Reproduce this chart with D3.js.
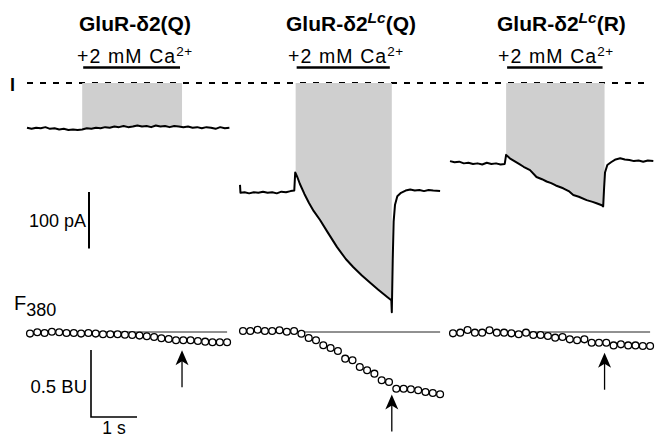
<!DOCTYPE html>
<html>
<head>
<meta charset="utf-8">
<script src="https://cdn.jsdelivr.net/npm/d3@7"></script>
<style>
  html, body { margin: 0; padding: 0; background: #fff; }
  svg { display: block; }
  text { font-family: "Liberation Sans", Arial, Helvetica, sans-serif; fill: #000; }
</style>
</head>
<body>
<svg id="chart" width="660" height="439"></svg>
<script>
// ---------------- DATA ----------------
const titleBase   = ["GluR-δ2", "GluR-δ2", "GluR-δ2"];
const titleSup    = ["", "Lc", "Lc"];
const titleSuffix = ["(Q)", "(Q)", "(R)"];
const caLabel = "+2 mM Ca";
const caSup = "2+";

// Ca2+ application window (s, from start of each trace)
const caOn  = [1.20, 1.21, 1.22];
const caOff = [3.37, 3.30, 3.36];

// whole-cell current traces [time (s), current (pA)]
const current1 = [[0,-79],[0.1,-81],[0.2,-79],[0.3,-80],[0.4,-78],[0.5,-81],[0.6,-80],[0.7,-82],[0.8,-81],[0.9,-83],
  [1.0,-82],[1.1,-83],[1.2,-82],[1.3,-80],[1.4,-81],[1.5,-79],[1.6,-80],[1.7,-78],[1.8,-79],[1.9,-77],
  [2.0,-78],[2.1,-76],[2.2,-78],[2.3,-77],[2.4,-75],[2.5,-77],[2.6,-76],[2.7,-78],[2.8,-75],[2.9,-77],
  [3.0,-76],[3.1,-78],[3.2,-76],[3.3,-77],[3.4,-78],[3.5,-77],[3.6,-79],[3.7,-78],[3.8,-80],[3.9,-78],
  [4.0,-79],[4.1,-81],[4.2,-78],[4.3,-80],[4.4,-79]];
const current2 = [[0,-180],[0.01,-194],[0.1,-193],[0.2,-195],[0.3,-193],[0.4,-194],[0.5,-192],[0.6,-194],[0.7,-193],
  [0.8,-195],[0.9,-192],[1.0,-193],[1.1,-191],[1.18,-190],[1.2,-158],[1.25,-167],[1.3,-178],[1.4,-196],[1.5,-212],
  [1.6,-226],[1.74,-242],[1.9,-263],[2.11,-290],[2.3,-311],[2.46,-325],[2.65,-340],[2.83,-353],[3.0,-365],
  [3.2,-378],[3.29,-384],[3.30,-405],[3.32,-313],[3.34,-245],[3.37,-215],[3.42,-200],[3.5,-194],[3.6,-190],
  [3.7,-188],[3.8,-190],[3.9,-189],[4.0,-191],[4.1,-189],[4.2,-190],[4.35,-191]];
const current3 = [[0,-138],[0.1,-140],[0.2,-139],[0.3,-142],[0.4,-141],[0.5,-143],[0.6,-142],[0.7,-144],[0.8,-141],
  [0.9,-143],[1.0,-142],[1.1,-144],[1.19,-143],[1.22,-127],[1.3,-133],[1.4,-138],[1.5,-143],[1.6,-148],[1.74,-154],
  [1.88,-166],[2.0,-170],[2.1,-174],[2.2,-177],[2.3,-181],[2.46,-186],[2.58,-191],[2.68,-198],[2.8,-201],[2.97,-207],
  [3.1,-210],[3.2,-213],[3.3,-216],[3.33,-218],[3.35,-185],[3.37,-158],[3.42,-145],[3.5,-140],[3.6,-135],[3.7,-133],
  [3.8,-135],[3.9,-136],[4.0,-138],[4.1,-137],[4.2,-139],[4.3,-137],[4.42,-138]];

// F380 fluorescence change (BU), sampled every fluoInterval s starting at fluoStart
const fluoStart = 0.065;
const fluoInterval = 0.1587;
const fluo1 = [-0.012,-0.002,-0.007,0.002,-0.002,-0.007,-0.007,-0.012,-0.007,-0.012,-0.017,-0.017,-0.017,-0.020,
  -0.022,-0.027,-0.032,-0.037,-0.047,-0.052,-0.062,-0.062,-0.062,-0.067,-0.072,-0.077,-0.077,-0.077];
const fluo2 = [0.007,0.007,0.017,0.007,0.007,0.013,0.002,0.007,-0.013,-0.045,-0.062,-0.099,-0.119,-0.142,
  -0.199,-0.211,-0.261,-0.286,-0.311,-0.360,-0.373,-0.423,-0.423,-0.427,-0.435,-0.448,-0.455,-0.465];
const fluo3 = [-0.010,-0.005,0.015,-0.005,-0.005,0.013,-0.005,-0.005,-0.010,-0.017,-0.005,-0.022,-0.022,-0.030,
  -0.042,-0.037,-0.055,-0.062,-0.055,-0.080,-0.080,-0.080,-0.100,-0.092,-0.100,-0.100,-0.104,-0.104];

// scale bars
const barCurrent = 100;   // pA
const barFluo = 0.5;      // BU
const barTime = 1;        // s
const labelCurrent = "100 pA";
const labelFluo = "0.5 BU";
const labelTime = "1 s";
const labelI = "I";
const labelF = "F";
const labelFsub = "380";

// ---------------- DRAWING ----------------
const currents = [current1, current2, current3];
const fluos = [fluo1, fluo2, fluo3];

const svg = d3.select("#chart");
const pxPerSec = 46;
const panelX0 = [27, 240, 450];
const titleX = [79, 286, 497];
const caX = [77, 288, 498];

const yI = d3.scaleLinear().domain([-500, 0]).range([83 + 500 * 0.566, 83]);
const yF = d3.scaleLinear().domain([-0.6, 0]).range([332 + 0.6 * 134, 332]);

function interp(data, t) {
  for (let i = 1; i < data.length; i++) {
    if (data[i][0] >= t) {
      const a = data[i - 1], b = data[i];
      const f = (t - a[0]) / (b[0] - a[0]);
      return a[1] + f * (b[1] - a[1]);
    }
  }
  return data[data.length - 1][1];
}

// zero-current dashed line
const xFirst = d3.scaleLinear().domain([0, 1]).range([panelX0[0], panelX0[0] + pxPerSec]);
svg.append("line")
  .attr("x1", xFirst(0)).attr("x2", 650)
  .attr("y1", yI(0)).attr("y2", yI(0))
  .attr("stroke", "#000").attr("stroke-width", 1.8)
  .attr("stroke-dasharray", "6,7");

svg.append("text").attr("x", 10).attr("y", 91)
  .attr("font-size", 18).attr("font-weight", "bold").text(labelI);

for (let p = 0; p < 3; p++) {
  const x = d3.scaleLinear().domain([0, 1]).range([panelX0[p], panelX0[p] + pxPerSec]);
  const data = currents[p];

  // title
  const tt = svg.append("text").attr("x", titleX[p]).attr("y", 31)
    .attr("font-size", 21).attr("font-weight", "bold");
  tt.append("tspan").text(titleBase[p]);
  if (titleSup[p]) {
    tt.append("tspan").attr("dy", -8).attr("font-size", 15.5).attr("font-style", "italic").text(titleSup[p]);
    tt.append("tspan").attr("dy", 8).text(titleSuffix[p]);
  } else {
    tt.append("tspan").text(titleSuffix[p]);
  }

  // Ca label
  const ct = svg.append("text").attr("x", caX[p]).attr("y", 63)
    .attr("font-size", 19.5).attr("letter-spacing", 1.1);
  ct.append("tspan").text(caLabel);
  ct.append("tspan").attr("dy", -7).attr("font-size", 13.5).attr("letter-spacing", 0.5).text(caSup);

  svg.append("line")
    .attr("x1", x(caOn[p]) + 1).attr("x2", x(caOff[p]) - 2)
    .attr("y1", 67.5).attr("y2", 67.5)
    .attr("stroke", "#000").attr("stroke-width", 2.6);

  // shaded region during Ca application
  const inside = data.filter(d => d[0] > caOn[p] && d[0] < caOff[p]);
  const shade = [[caOn[p], interp(data, caOn[p])], ...inside, [caOff[p], interp(data, caOff[p])]];
  svg.append("path")
    .datum(shade)
    .attr("d", d3.area().x(d => x(d[0])).y0(yI(0)).y1(d => yI(d[1])))
    .attr("fill", "#cfcfcf");

  // current trace
  svg.append("path")
    .datum(data)
    .attr("d", d3.line().x(d => x(d[0])).y(d => yI(d[1])))
    .attr("fill", "none").attr("stroke", "#000")
    .attr("stroke-width", 2).attr("stroke-linejoin", "round");

  // fluorescence
  const fl = fluos[p].map((v, i) => [fluoStart + i * fluoInterval, v]);
  svg.append("line")
    .attr("x1", x(fl[0][0])).attr("x2", x(fl[fl.length - 1][0]))
    .attr("y1", yF(0)).attr("y2", yF(0))
    .attr("stroke", "#222").attr("stroke-width", 1);
  svg.append("g").selectAll("circle").data(fl).join("circle")
    .attr("cx", d => x(d[0])).attr("cy", d => yF(d[1])).attr("r", 3.4)
    .attr("fill", "#fff").attr("stroke", "#000").attr("stroke-width", 1.3);

  // arrow at end of application
  const ax = x(caOff[p]);
  const tip = yF(interp(fl, caOff[p])) + 10;
  svg.append("line").attr("x1", ax).attr("x2", ax).attr("y1", tip + 6).attr("y2", tip + 37)
    .attr("stroke", "#000").attr("stroke-width", 1.3);
  svg.append("path")
    .attr("d", `M${ax},${tip} L${ax - 6.5},${tip + 15} L${ax},${tip + 11} L${ax + 6.5},${tip + 15} Z`)
    .attr("fill", "#000");
}

// current scale bar
const barTop = 192;
svg.append("line").attr("x1", 89).attr("x2", 89)
  .attr("y1", barTop).attr("y2", barTop + (yI(-barCurrent) - yI(0)))
  .attr("stroke", "#000").attr("stroke-width", 2);
svg.append("text").attr("x", 86).attr("y", 227).attr("text-anchor", "end")
  .attr("font-size", 18).text(labelCurrent);

// F380 label
const ft = svg.append("text").attr("x", 14).attr("y", 310).attr("font-size", 20);
ft.append("tspan").text(labelF);
ft.append("tspan").attr("dy", 6).attr("font-size", 18).text(labelFsub);

// fluorescence / time scale bar
const fbTop = 350;
const fbBottom = fbTop + (yF(-barFluo) - yF(0));
const xs = d3.scaleLinear().domain([0, 1]).range([91, 91 + pxPerSec]);
svg.append("path")
  .attr("d", `M${xs(0)},${fbTop} L${xs(0)},${fbBottom} L${xs(barTime)},${fbBottom}`)
  .attr("fill", "none").attr("stroke", "#000").attr("stroke-width", 1.6);
svg.append("text").attr("x", 87).attr("y", 393).attr("text-anchor", "end")
  .attr("font-size", 18.5).text(labelFluo);
svg.append("text").attr("x", xs(barTime / 2)).attr("y", 434).attr("text-anchor", "middle")
  .attr("font-size", 17.5).text(labelTime);
</script>
</body>
</html>
